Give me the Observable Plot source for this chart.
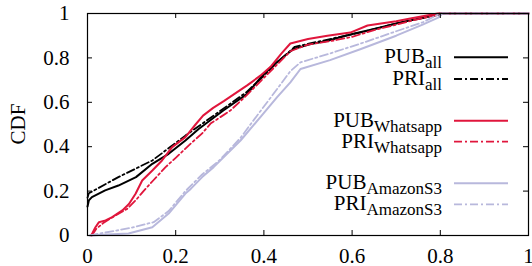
<!DOCTYPE html>
<html>
<head>
<meta charset="utf-8">
<script src="https://cdn.jsdelivr.net/npm/d3@7"></script>
<script src="https://cdn.jsdelivr.net/npm/@observablehq/plot@0.6"></script>
<style>
  html, body { margin: 0; padding: 0; background: #fff; }
  #chart svg { display: block; }
</style>
</head>
<body>
<div id="chart"></div>
<script>
// ---- data ----
const xTicks = [0, 0.2, 0.4, 0.6, 0.8, 1];
const xTickLabels = ["0", "0.2", "0.4", "0.6", "0.8", "1"];
const yTicks = [0, 0.2, 0.4, 0.6, 0.8, 1];
const yTickLabels = ["0", "0.2", "0.4", "0.6", "0.8", "1"];

const seriesNames = ["PUB_all", "PRI_all", "PUB_Whatsapp", "PRI_Whatsapp", "PUB_AmazonS3", "PRI_AmazonS3"];

const pubAll = [[0,0.13],[0.003,0.158],[0.01,0.173],[0.04,0.203],[0.07,0.225],[0.11,0.263],[0.147,0.323],[0.184,0.368],[0.222,0.428],[0.252,0.48],[0.308,0.563],[0.362,0.638],[0.392,0.71],[0.42,0.766],[0.467,0.84],[0.506,0.862],[0.54,0.875],[0.596,0.905],[0.65,0.93],[0.71,0.96],[0.76,0.98],[0.80,1.0],[1,1]];
const priAll = [[0,0.17],[0.003,0.19],[0.07,0.263],[0.147,0.338],[0.222,0.45],[0.30,0.56],[0.36,0.645],[0.40,0.72],[0.43,0.78],[0.47,0.85],[0.55,0.885],[0.62,0.915],[0.70,0.955],[0.77,0.985],[0.81,1.0],[1,1]];
const pubWhatsapp = [[0.008,0],[0.011,0.01],[0.018,0.037],[0.026,0.06],[0.041,0.068],[0.056,0.083],[0.079,0.113],[0.094,0.142],[0.109,0.188],[0.124,0.248],[0.147,0.293],[0.169,0.338],[0.192,0.398],[0.222,0.443],[0.245,0.50],[0.262,0.54],[0.285,0.575],[0.309,0.605],[0.362,0.676],[0.392,0.72],[0.415,0.76],[0.44,0.82],[0.46,0.865],[0.50,0.885],[0.544,0.90],[0.596,0.914],[0.635,0.946],[0.70,0.965],[0.732,0.977],[0.794,1.0],[1,1]];
const priWhatsapp = [[0.01,0],[0.02,0.03],[0.035,0.055],[0.063,0.09],[0.09,0.12],[0.11,0.16],[0.127,0.2],[0.15,0.25],[0.177,0.308],[0.20,0.35],[0.234,0.414],[0.26,0.46],[0.279,0.504],[0.324,0.563],[0.36,0.63],[0.40,0.71],[0.43,0.77],[0.46,0.83],[0.50,0.86],[0.55,0.875],[0.60,0.895],[0.65,0.925],[0.70,0.95],[0.75,0.975],[0.81,1.0],[1,1]];
const pubAmazonS3 = [[0.01,0],[0.033,0.003],[0.093,0.009],[0.147,0.037],[0.184,0.099],[0.222,0.189],[0.234,0.21],[0.26,0.263],[0.286,0.308],[0.347,0.428],[0.392,0.533],[0.43,0.623],[0.46,0.69],[0.483,0.75],[0.55,0.79],[0.62,0.84],[0.70,0.9],[0.76,0.95],[0.794,0.98],[0.805,1.0],[1,1]];
const priAmazonS3 = [[0.005,0],[0.03,0.01],[0.06,0.02],[0.1,0.035],[0.15,0.06],[0.184,0.11],[0.222,0.2],[0.26,0.275],[0.30,0.34],[0.347,0.44],[0.392,0.56],[0.43,0.66],[0.46,0.74],[0.483,0.78],[0.55,0.82],[0.62,0.865],[0.70,0.92],[0.76,0.96],[0.80,1.0],[1,1]];

// ---- styling ----
const BLACK = "#000000", RED = "#e0163c", LAV = "#b8b8dc";
const DASH = "8,3,2,3";
const styles = [
  {data: pubAll,       stroke: BLACK, dash: null, sw: 2,   main: "PUB", sub: "all"},
  {data: priAll,       stroke: BLACK, dash: DASH, sw: 1.8, main: "PRI", sub: "all"},
  {data: pubWhatsapp,  stroke: RED,   dash: null, sw: 2,   main: "PUB", sub: "Whatsapp"},
  {data: priWhatsapp,  stroke: RED,   dash: DASH, sw: 1.8, main: "PRI", sub: "Whatsapp"},
  {data: pubAmazonS3,  stroke: LAV,   dash: null, sw: 2,   main: "PUB", sub: "AmazonS3"},
  {data: priAmazonS3,  stroke: LAV,   dash: DASH, sw: 1.8, main: "PRI", sub: "AmazonS3"}
];

const W = 532, H = 266;
const mL = 87, mR = 4, mT = 13, mB = 31;
const innerH = H - mT - mB, innerW = W - mL - mR;
const tickLen = 5;

const lineMarks = styles.map(s => Plot.line(s.data, {
  x: d => d[0], y: d => d[1],
  stroke: s.stroke, strokeWidth: s.sw,
  strokeDasharray: s.dash ?? undefined,
  curve: "linear"
}));

const chart = Plot.plot({
  width: W, height: H,
  marginLeft: mL, marginRight: mR, marginTop: mT, marginBottom: mB,
  style: {fontFamily: "'Liberation Serif', 'Times New Roman', serif", fontSize: "21px", background: "#fff", color: "#000"},
  x: {domain: [0, 1]},
  y: {domain: [0, 1]},
  marks: [
    ...lineMarks,
    // inward ticks on all four sides (gnuplot style)
    Plot.tickX(xTicks, {x: d => d, insetTop: innerH - tickLen, stroke: "#000"}),
    Plot.tickX(xTicks, {x: d => d, insetBottom: innerH - tickLen, stroke: "#000"}),
    Plot.tickY(yTicks, {y: d => d, insetRight: innerW - tickLen, stroke: "#000"}),
    Plot.tickY(yTicks, {y: d => d, insetLeft: innerW - tickLen, stroke: "#000"}),
    Plot.axisX({ticks: xTicks, tickSize: 0, tickPadding: 13, tickFormat: d => xTickLabels[xTicks.indexOf(d)], label: null, fontSize: 21}),
    Plot.axisY({ticks: yTicks, tickSize: 0, tickPadding: 18, tickFormat: d => yTickLabels[yTicks.indexOf(d)], label: null, fontSize: 21}),
    Plot.frame({stroke: "#000", strokeWidth: 1.2})
  ]
});

document.getElementById("chart").appendChild(chart);

// ---- y label and legend ----
const svg = d3.select(chart);
svg.append("text")
  .attr("transform", `translate(25,${mT + innerH / 2}) rotate(-90)`)
  .attr("text-anchor", "middle")
  .attr("font-size", 21)
  .attr("fill", "#000")
  .text("CDF");

const legendY = [57.3, 79, 120.7, 141.7, 183.3, 204.3];
const lg = svg.append("g");
styles.forEach((s, i) => {
  const y = legendY[i];
  const t = lg.append("text")
    .attr("x", 442).attr("y", y + 6)
    .attr("text-anchor", "end")
    .attr("font-size", 21)
    .attr("fill", "#000");
  t.append("tspan").text(s.main);
  t.append("tspan").attr("dy", 5).attr("font-size", 17).text(s.sub);
  lg.append("line")
    .attr("x1", 454).attr("x2", 508).attr("y1", y).attr("y2", y)
    .attr("stroke", s.stroke).attr("stroke-width", s.sw)
    .attr("stroke-dasharray", s.dash);
});
</script>
</body>
</html>
